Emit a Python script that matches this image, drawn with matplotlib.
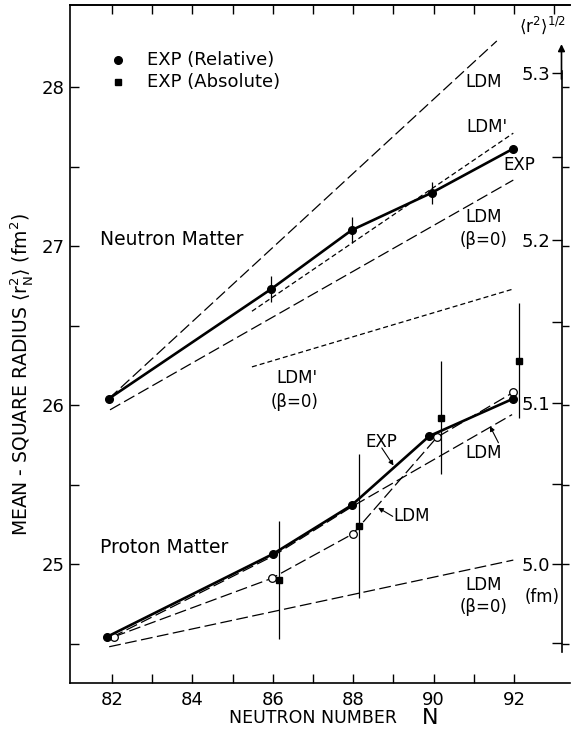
import numpy as np
import matplotlib
matplotlib.use("Agg")
import matplotlib.pyplot as plt

plt.rcParams["font.family"] = ["DejaVu Sans"]
plt.rcParams["mathtext.default"] = "regular"
plt.rcParams["lines.scale_dashes"] = False

# --- neutron matter ---
n_exp_N = [81.92, 85.96, 87.96, 89.95, 91.96]
n_exp_r2 = [26.04, 26.73, 27.10, 27.335, 27.61]
n_exp_err = [0.0, 0.08, 0.08, 0.07, 0.0]
n_ldm_N, n_ldm_r2 = [81.92, 91.57], [26.04, 28.29]
n_ldmp_N, n_ldmp_r2 = [85.48, 91.98], [26.59, 27.71]
n_ldm0_N, n_ldm0_r2 = [81.95, 91.98], [25.97, 27.415]
n_ldmp0_N, n_ldmp0_r2 = [85.48, 91.98], [26.24, 26.73]

# --- proton matter ---
p_rel_N = [81.88, 86.0, 87.96, 89.89, 91.96]
p_rel_r2 = [24.543, 25.063, 25.37, 25.805, 26.038]
p_ldm_N = [82.05, 85.97, 87.99, 90.08, 91.98]
p_ldm_r2 = [24.543, 24.91, 25.19, 25.797, 26.08]
p_abs_N = [86.16, 88.14, 90.18, 92.11]
p_abs_r2 = [24.90, 25.24, 25.92, 26.28]
p_abs_err = [0.37, 0.455, 0.355, 0.36]
p_ldm2_N = [82.0, 86.0, 87.96, 91.95]
p_ldm2_r2 = [24.54, 25.05, 25.36, 25.94]
p_ldm0_N, p_ldm0_r2 = [81.93, 91.98], [24.48, 25.025]

# right-hand scale <r^2>^1/2 (fm)
r_major = [5.0, 5.1, 5.2, 5.3]
r_minor = [4.95, 5.05, 5.15, 5.25]

LONG = (0, (8.5, 3.2))
SHORT = (0, (3.6, 2.2))
K = "black"

fig = plt.figure(figsize=(5.71, 7.33), dpi=100)
ax = fig.add_axes([70 / 571, 1 - 683 / 733, 500 / 571, 678 / 733])
ax.set_xlim(80.955, 93.39)
ax.set_ylim(24.252, 28.516)

# neutron curves
ax.plot(n_ldm_N, n_ldm_r2, color=K, lw=0.9, ls=LONG)
ax.plot(n_ldmp_N, n_ldmp_r2, color=K, lw=0.9, ls=SHORT)
ax.plot(n_ldm0_N, n_ldm0_r2, color=K, lw=0.9, ls=LONG)
ax.plot(n_ldmp0_N, n_ldmp0_r2, color=K, lw=0.9, ls=SHORT)
ax.plot(n_exp_N, n_exp_r2, color=K, lw=1.9, marker="o", ms=5.5, zorder=4)
ax.errorbar(n_exp_N, n_exp_r2, yerr=n_exp_err, fmt="none", ecolor=K, elinewidth=0.9, capsize=0)

# proton curves
ax.plot(p_ldm0_N, p_ldm0_r2, color=K, lw=0.9, ls=LONG)
ax.plot(p_ldm2_N, p_ldm2_r2, color=K, lw=0.9, ls=LONG)
ax.plot(p_ldm_N, p_ldm_r2, color=K, lw=0.9, ls=LONG, marker="o", ms=5.5,
        mfc="white", mec=K, mew=0.9, zorder=3)
ax.plot(p_rel_N, p_rel_r2, color=K, lw=1.9, marker="o", ms=5.5, zorder=4)
ax.errorbar(p_abs_N, p_abs_r2, yerr=p_abs_err, fmt="s", color=K, ms=5,
            elinewidth=0.9, capsize=0, zorder=5)

# legend
ax.plot([82.15], [28.17], "o", color=K, ms=5.5)
ax.plot([82.15], [28.03], "s", color=K, ms=5)
ax.text(82.87, 28.17, "EXP (Relative)", fontsize=13, va="center", ha="left")
ax.text(82.87, 28.03, "EXP (Absolute)", fontsize=13, va="center", ha="left")

# labels
ax.text(81.70, 27.04, "Neutron Matter", fontsize=13.5, va="center", ha="left")
ax.text(81.70, 25.107, "Proton Matter", fontsize=13.5, va="center", ha="left")
fs = 12
ax.text(91.25, 28.03, "LDM", fontsize=fs, ha="center", va="center")
ax.text(90.81, 27.75, "LDM'", fontsize=fs, ha="left", va="center")
ax.text(92.12, 27.51, "EXP", fontsize=fs, ha="center", va="center")
ax.text(91.25, 27.18, "LDM", fontsize=fs, ha="center", va="center")
ax.text(91.25, 27.04, "(β=0)", fontsize=fs, ha="center", va="center")
ax.text(86.60, 26.17, "LDM'", fontsize=fs, ha="center", va="center")
ax.text(86.53, 26.02, "(β=0)", fontsize=fs, ha="center", va="center")
ax.text(91.24, 24.87, "LDM", fontsize=fs, ha="center", va="center")
ax.text(91.24, 24.73, "(β=0)", fontsize=fs, ha="center", va="center")
ax.text(91.25, 25.70, "LDM", fontsize=fs, ha="center", va="center")
ax.text(88.69, 25.767, "EXP", fontsize=fs, ha="center", va="center")
ax.text(89.0, 25.30, "LDM", fontsize=fs, ha="left", va="center")
arw = dict(arrowstyle="-|>", color=K, lw=0.8, mutation_scale=7, shrinkA=0, shrinkB=0)
ax.annotate("", xy=(89.0, 25.62), xytext=(88.71, 25.73), arrowprops=arw)
ax.annotate("", xy=(88.62, 25.354), xytext=(88.98, 25.30), arrowprops=arw)
ax.annotate("", xy=(91.40, 25.867), xytext=(91.61, 25.763), arrowprops=arw)

# ticks and spines
ax.spines["right"].set_visible(False)
for s in ("left", "top", "bottom"):
    ax.spines[s].set_linewidth(1.2)
ax.set_xticks(range(82, 93, 2))
ax.set_xticks(range(83, 92, 2), minor=True)
ax.set_yticks([25, 26, 27, 28])
ax.set_yticks([24.5, 25.5, 26.5, 27.5], minor=True)
ax.tick_params(which="both", direction="in", length=6.5, width=1, labelsize=13,
               top=False, right=False)
ax.tick_params(axis="x", pad=6)
ax.tick_params(axis="y", pad=4)
top = ax.secondary_xaxis("top")
top.set_xticks(range(82, 94))
top.tick_params(direction="in", length=6.5, width=1, labeltop=False)
top.spines["top"].set_linewidth(1.2)

xr = 0.983
rax = ax.secondary_yaxis(xr, functions=(np.sqrt, np.square))
rax.set_alignment("left")
rax.set_yticks(r_major)
rax.set_yticklabels(["5.0", "5.1", "5.2", "5.3"])
rax.set_yticks(r_minor, minor=True)
rax.tick_params(which="both", direction="out", length=7, width=1, labelsize=13, pad=1)
rax.spines["left"].set_bounds(np.sqrt(24.45), np.sqrt(28.1))
rax.spines["left"].set_linewidth(1.2)

rax2 = ax.secondary_yaxis(xr)
rax2.spines["right"].set_visible(False)
rax2.set_yticks(np.arange(24.5, 28.01, 0.5))
rax2.tick_params(direction="out", length=5, width=1, labelright=False)

ax.annotate("", xy=(xr, 28.27), xytext=(xr, 28.05),
            xycoords=("axes fraction", "data"),
            arrowprops=dict(arrowstyle="-|>", color=K, lw=1.2, mutation_scale=10,
                            shrinkA=0, shrinkB=0))
ax.text(92.72, 28.39, r"$\langle r^2\rangle^{1/2}$", fontsize=12, ha="center", va="center")
ax.text(92.70, 24.79, "(fm)", fontsize=12, ha="center", va="center")

# axis titles
ax.text(87.0, -0.0516, "NEUTRON NUMBER", fontsize=12.5, ha="center", va="center",
        transform=ax.get_xaxis_transform())
ax.text(89.9, -0.0516, "N", fontsize=16, ha="center", va="center",
        transform=ax.get_xaxis_transform())
fig.text(22 / 571, 1 - 375 / 733,
         r"MEAN - SQUARE RADIUS $\langle r_N^2\rangle$ (fm$^2$)",
         rotation=90, fontsize=13.5, ha="center", va="center")

fig.savefig("out.png", dpi=100)
